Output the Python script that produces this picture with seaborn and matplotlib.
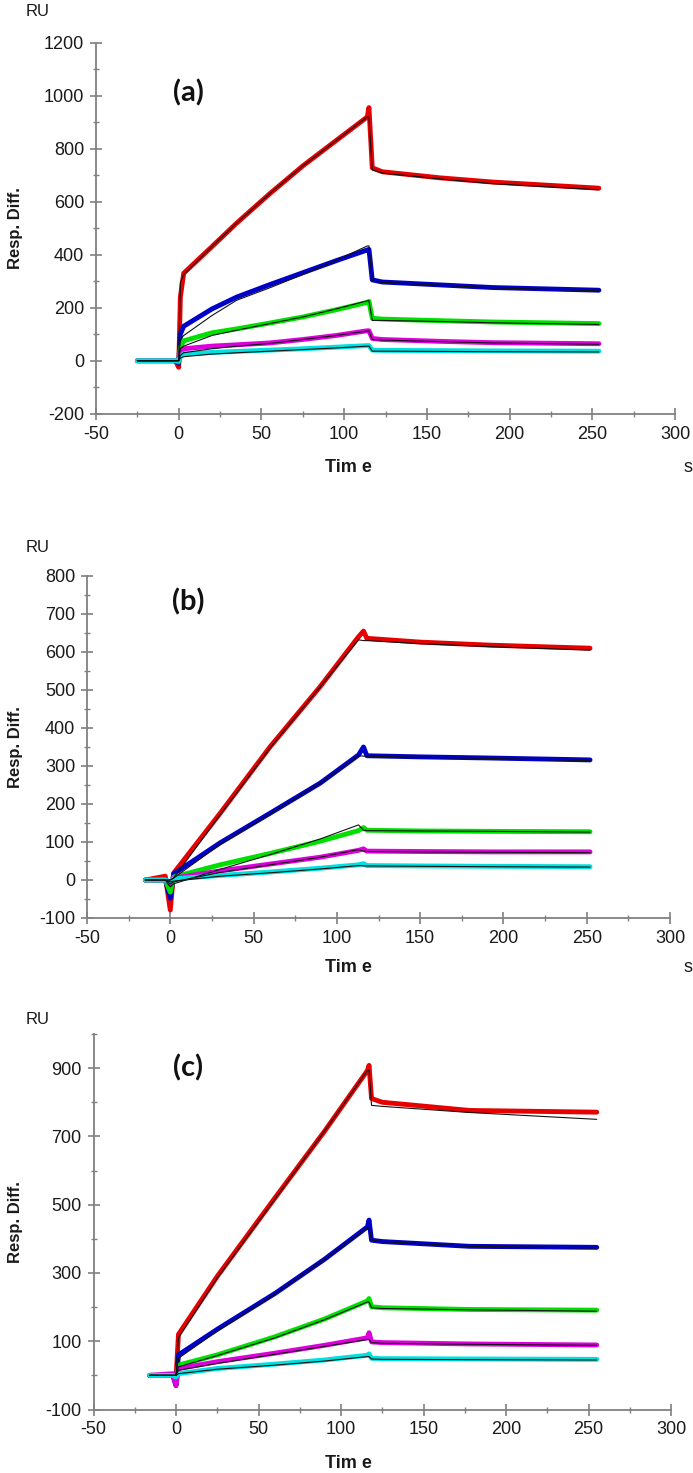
import numpy as np
import pandas as pd
import matplotlib
matplotlib.use("Agg")
import matplotlib.pyplot as plt
from matplotlib.ticker import MultipleLocator
import seaborn as sns

# ---- panel (a) -------------------------------------------------------------
A_TIME = [-25, -2, 0, 1, 3, 20, 35, 55, 75, 95, 114, 115, 117, 123, 158, 190, 254]
A_RED = [0, 0, -25, 240, 330, 430, 519, 630, 735, 830, 920, 955, 728, 713, 690, 674, 651]
A_BLUE = [0, 0, -10, 100, 130, 195, 240, 287, 332, 377, 418, 420, 305, 297, 286, 276, 266]
A_GREEN = [0, 0, -5, 50, 75, 105, 120, 142, 165, 192, 220, 224, 160, 157, 151, 146, 140]
A_MAGENTA = [0, 0, 0, 30, 45, 55, 60, 67, 80, 95, 113, 113, 84, 80, 73, 68, 64]
A_CYAN = [0, 0, 0, 15, 26, 31, 35, 40, 45, 51, 57, 57, 40, 39, 38, 37, 36]
A_RED_FIT = [0, 0, 0, 295, 325, 430, 519, 630, 735, 830, 920, 918, 720, 708, 686, 668, 645]
A_BLUE_FIT = [0, 0, 0, 80, 95, 170, 228, 275, 325, 378, 433, 433, 300, 296, 285, 275, 264]
A_GREEN_FIT = [0, 0, 0, 45, 55, 95, 115, 140, 165, 195, 226, 226, 152, 152, 148, 143, 137]
A_MAGENTA_FIT = [0, 0, 0, 20, 30, 45, 55, 65, 80, 95, 112, 112, 80, 78, 72, 67, 62]
A_CYAN_FIT = [0, 0, 0, 10, 15, 25, 30, 36, 42, 48, 55, 55, 36, 36, 35, 34, 33]

# ---- panel (b) -------------------------------------------------------------
B_TIME = [-15, -3, 0, 2, 30, 60, 90, 113, 116, 118, 150, 192, 252]
B_RED = [0, 10, -79, 18, 176, 351, 509, 640, 655, 636, 626, 618, 610]
B_BLUE = [0, 0, -48, 16, 98, 176, 255, 329, 350, 327, 324, 321, 316]
B_GREEN = [0, 0, -32, 8, 40, 70, 102, 130, 138, 131, 129, 128, 127]
B_MAGENTA = [0, 0, -10, 5, 24, 42, 60, 78, 82, 76, 75, 74, 74]
B_CYAN = [0, 0, -5, 3, 12, 21, 31, 40, 43, 38, 37, 36, 35]
B_RED_FIT = [0, 0, 0, 5, 172, 348, 508, 632, 630, 630, 622, 614, 605]
B_BLUE_FIT = [0, 0, 0, 5, 94, 174, 255, 327, 326, 326, 323, 320, 314]
B_GREEN_FIT = [0, 0, -18, -10, 28, 67, 108, 145, 131, 130, 129, 128, 126]
B_MAGENTA_FIT = [0, 0, -10, -5, 20, 40, 60, 80, 76, 75, 74, 73, 72]
B_CYAN_FIT = [0, 0, -5, -3, 10, 19, 29, 38, 37, 37, 36, 35, 34]

# ---- panel (c) -------------------------------------------------------------
C_TIME = [-16, -2, 0, 1.5, 25, 60, 90, 116, 117, 118.5, 125, 178, 255]
C_RED = [0, 0, -10, 120, 290, 520, 715, 893, 908, 811, 800, 776, 771]
C_BLUE = [0, 0, -30, 60, 135, 240, 340, 435, 455, 396, 392, 378, 375]
C_GREEN = [0, 0, -10, 30, 60, 113, 165, 218, 225, 201, 198, 193, 191]
C_MAGENTA = [0, 5, -30, 20, 40, 65, 88, 110, 125, 98, 96, 92, 89]
C_CYAN = [0, 0, -5, 5, 20, 33, 45, 59, 63, 50, 49, 48, 47]
C_RED_FIT = [0, 0, 0, 110, 285, 517, 715, 893, 893, 791, 788, 770, 750]
C_BLUE_FIT = [0, 0, 0, 50, 130, 238, 340, 432, 432, 396, 392, 378, 373]
C_GREEN_FIT = [0, 0, 0, 25, 58, 110, 163, 215, 215, 198, 196, 192, 188]
C_MAGENTA_FIT = [0, 0, 0, 15, 35, 62, 85, 105, 105, 96, 94, 91, 88]
C_CYAN_FIT = [0, 0, 0, 5, 18, 30, 42, 55, 55, 48, 47, 46, 45]

COLORS = ['#e60000', '#0000c8', '#00e000', '#dd00dd', '#00e0e0']
AXIS_GREY = '#808080'

W, H = 693, 1473

sns.set_style("ticks")
plt.rcParams['font.family'] = ['Liberation Sans', 'DejaVu Sans']
plt.rcParams['axes.unicode_minus'] = False

fig = plt.figure(figsize=(W / 100, H / 100), dpi=100)


def px_rect(left, top, right, bottom):
    """Axes rectangle from pixel edges"""
    return [left / W, 1 - bottom / H, (right - left) / W, (bottom - top) / H]


def ftext(x, y, s, **kw):
    fig.text(x / W, 1 - y / H, s, ha='center', va='center', **kw)


def draw_panel(ax, time, data, fits, ylim, ymajor, yminor):
    # coloured measured curves, then thin black fitted curves on top
    for vals, col in zip(data, COLORS):
        df = pd.DataFrame({'t': time, 'v': vals})
        sns.lineplot(data=df, x='t', y='v', ax=ax, color=col, lw=3.5,
                     estimator=None, sort=False)
    for vals in fits:
        df = pd.DataFrame({'t': time, 'v': vals})
        sns.lineplot(data=df, x='t', y='v', ax=ax, color='#111111', lw=0.8,
                     estimator=None, sort=False)
    ax.set_xlim(-50, 300)
    ax.set_ylim(*ylim)
    ax.xaxis.set_major_locator(MultipleLocator(50))
    ax.xaxis.set_minor_locator(MultipleLocator(25))
    ax.yaxis.set_major_locator(ymajor)
    ax.yaxis.set_minor_locator(yminor)
    ax.set_xlabel('')
    ax.set_ylabel('')
    sns.despine(ax=ax)
    for side in ['left', 'bottom']:
        ax.spines[side].set_color(AXIS_GREY)
        ax.spines[side].set_linewidth(1.3)
    ax.tick_params(which='major', direction='inout', length=9, width=1.2,
                   color=AXIS_GREY, labelsize=13, labelcolor='#1a1a1a', pad=4)
    ax.tick_params(which='minor', direction='inout', length=5, width=1.0,
                   color=AXIS_GREY)


ax_a = fig.add_axes(px_rect(96, 42.7, 675, 413.7))
draw_panel(ax_a, A_TIME,
           [A_RED, A_BLUE, A_GREEN, A_MAGENTA, A_CYAN],
           [A_RED_FIT, A_BLUE_FIT, A_GREEN_FIT, A_MAGENTA_FIT, A_CYAN_FIT],
           (-200, 1200), MultipleLocator(200), MultipleLocator(100))

ax_b = fig.add_axes(px_rect(87, 576, 670, 918))
draw_panel(ax_b, B_TIME,
           [B_RED, B_BLUE, B_GREEN, B_MAGENTA, B_CYAN],
           [B_RED_FIT, B_BLUE_FIT, B_GREEN_FIT, B_MAGENTA_FIT, B_CYAN_FIT],
           (-100, 800), MultipleLocator(100), MultipleLocator(50))

ax_c = fig.add_axes(px_rect(93.5, 1034, 671, 1409.5))
draw_panel(ax_c, C_TIME,
           [C_RED, C_BLUE, C_GREEN, C_MAGENTA, C_CYAN],
           [C_RED_FIT, C_BLUE_FIT, C_GREEN_FIT, C_MAGENTA_FIT, C_CYAN_FIT],
           (-100, 1000), MultipleLocator(200, offset=100), MultipleLocator(100))

# Axis texts
lab_font = dict(fontsize=12, fontweight='bold', color='#1a1a1a')
tag_font = dict(fontsize=21, fontweight='bold', color='#111111',
                family=['Lato', 'DejaVu Sans'])
for ru_y, resp_y, time_y, tag_y, tag, show_s in [
        (12, 228, 467, 93, '(a)', True),
        (548, 747, 968, 602, '(b)', True),
        (1020, 1222, 1464, 1068, '(c)', False)]:
    ftext(38, ru_y, 'RU', fontsize=12, color='#1a1a1a')
    ftext(16, resp_y, 'Resp. Diff.', rotation=90, **lab_font)
    ftext(348, time_y, 'Tim e', fontsize=13, fontweight='bold', color='#1a1a1a')
    if show_s:
        ftext(688, time_y, 's', fontsize=13, color='#1a1a1a')
    ftext(188, tag_y, tag, **tag_font)

fig.savefig('out.png', dpi=100, facecolor='white')
